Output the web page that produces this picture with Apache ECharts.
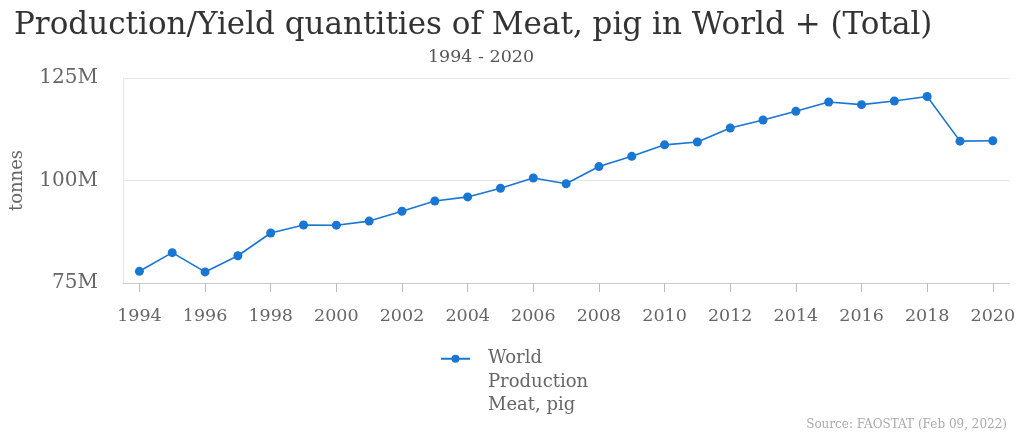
<!DOCTYPE html>
<html><head><meta charset="utf-8">
<script src="https://cdn.jsdelivr.net/npm/echarts@6/dist/echarts.min.js"></script>
<style>html,body{margin:0;padding:0;background:#fff}#c{width:1018px;height:437px}</style>
</head><body><div id="c"></div>
<script>
const years = ['1994','1995','1996','1997','1998','1999','2000','2001','2002','2003','2004','2005','2006','2007','2008','2009','2010','2011','2012','2013','2014','2015','2016','2017','2018','2019','2020'];
const production = [77.85,82.4,77.7,81.65,87.2,89.15,89.1,90.1,92.5,95.0,96.0,98.1,100.6,99.2,103.4,105.9,108.7,109.4,112.8,114.75,116.9,119.15,118.5,119.4,120.5,109.6,109.7];
const yTicks = [75,100,125];
const seriesName = 'World\nProduction\nMeat, pig';

const chart = echarts.init(document.getElementById('c'));
chart.setOption({
  animation:false,
  title:[
    {text:'Production/Yield quantities of Meat, pig in World + (Total)', left:9, top:5,
     textStyle:{fontFamily:'DejaVu Serif', fontWeight:'normal', fontSize:31, color:'#333'}},
    {text:'1994 - 2020', left:476, top:43, textAlign:'center',
     textStyle:{fontFamily:'DejaVu Serif', fontWeight:'normal', fontSize:17.5, color:'#555'}},
    {text:'Source: FAOSTAT (Feb 09, 2022)', right:6, bottom:1,
     textStyle:{fontFamily:'DejaVu Serif', fontWeight:'normal', fontSize:12, color:'#aaa'}}
  ],
  grid:{left:122, right:5, top:78, bottom:154},
  legend:{left:435, top:295, itemWidth:29, itemHeight:10, itemGap:6,
    formatter: n => '\n\n' + n,
    textStyle:{fontFamily:'DejaVu Serif', fontSize:18, color:'#666', lineHeight:23.5, padding:[0,0,0,13]},
    data:[seriesName]},
  xAxis:{type:'category', data:years, boundaryGap:true,
    axisLine:{lineStyle:{color:'#ccc'}},
    axisTick:{show:true, alignWithLabel:true, interval:1, length:9, lineStyle:{color:'#bbb', width:1}},
    axisLabel:{interval:1, fontFamily:'DejaVu Serif', fontSize:17.5, color:'#666', margin:24}},
  yAxis:{type:'value', min:75, max:125, interval:25,
    name:'tonnes', nameLocation:'middle', nameGap:97, nameRotate:90,
    nameTextStyle:{fontFamily:'DejaVu Serif', fontSize:18, color:'#666'},
    axisLine:{show:true, lineStyle:{color:'#e6e6e6'}},
    axisTick:{show:false},
    splitLine:{lineStyle:{color:'#e6e6e6'}},
    axisLabel:{fontFamily:'DejaVu Serif', fontSize:20, color:'#666', margin:25,
      formatter:v=> yTicks.includes(v) ? v+'M' : ''}},
  series:[{name:seriesName, type:'line', data:production, symbol:'circle', symbolSize:9,
    itemStyle:{color:'#1976d2'}, lineStyle:{width:1.6, color:'#1976d2'}}]
});
</script></body></html>
